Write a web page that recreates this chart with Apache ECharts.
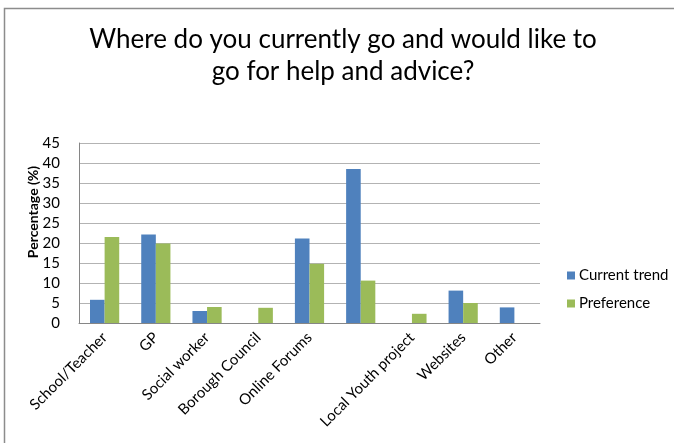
<!DOCTYPE html>
<html>
<head>
<meta charset="utf-8">
<script src="https://cdn.jsdelivr.net/npm/echarts@6/dist/echarts.min.js"></script>
<style>
  html, body { margin: 0; padding: 0; background: #fff; }
  #chart { width: 674px; height: 443px; }
</style>
</head>
<body>
<div id="chart"></div>
<script>
// Help and advice sources, survey percentages
const categories = ['School/Teacher', 'GP', 'Social worker', 'Borough Council', 'Online Forums', '', 'Local Youth project', 'Websites', 'Other'];
const currentTrend = [5.8, 22.1, 3.0, null, 21.1, 38.5, null, 8.1, 3.9];
const preference = [21.5, 19.9, 4.0, 3.8, 14.8, 10.6, 2.3, 5.0, null];
const yTicks = { min: 0, max: 45, interval: 5 };

const font = 'Lato, "Liberation Sans", sans-serif';
const chart = echarts.init(document.getElementById('chart'));

chart.setOption({
  backgroundColor: '#ffffff',
  animation: false,
  title: {
    text: 'Where do you currently go and would like to\ngo for help and advice?',
    left: 338,
    top: 19,
    textAlign: 'center',
    textStyle: { fontFamily: font, fontSize: 26, fontWeight: 'normal', color: '#000', lineHeight: 32 }
  },
  legend: {
    orient: 'vertical',
    left: 562,
    top: 263,
    itemWidth: 8,
    itemHeight: 8,
    itemGap: 13,
    icon: 'rect',
    textStyle: { fontFamily: font, fontSize: 15, color: '#000', padding: [0, 0, 0, -1] },
    data: ['Current trend', 'Preference']
  },
  grid: { left: 79, right: 134, top: 143, bottom: 120, containLabel: false },
  xAxis: {
    type: 'category',
    data: categories,
    axisLine: { lineStyle: { color: '#868686', width: 1 } },
    axisTick: { show: false },
    axisLabel: { rotate: 45, interval: 0, margin: 12, fontFamily: font, fontSize: 15, color: '#000' }
  },
  yAxis: {
    type: 'value',
    min: yTicks.min,
    max: yTicks.max,
    interval: yTicks.interval,
    axisLine: { show: true, lineStyle: { color: '#868686', width: 1 } },
    axisTick: { show: false },
    splitLine: { lineStyle: { color: '#b3b3b3', width: 1 } },
    axisLabel: { margin: 19, fontFamily: font, fontSize: 15, color: '#000' }
  },
  graphic: [
    {
      type: 'rect',
      shape: { x: 4.5, y: 8.5, width: 700, height: 460 },
      style: { fill: 'none', stroke: '#8c8c8c', lineWidth: 1.5 },
      silent: true
    },
    {
      type: 'text',
      x: 33,
      y: 212,
      rotation: Math.PI / 2,
      style: {
        text: 'Percentage (%)',
        fontFamily: font,
        fontSize: 14,
        fontWeight: 'bold',
        fill: '#000',
        align: 'center',
        verticalAlign: 'middle'
      }
    }
  ],
  series: [
    {
      name: 'Current trend',
      type: 'bar',
      data: currentTrend,
      barGap: '0%',
      barCategoryGap: '43%',
      itemStyle: { color: '#4f81bd' }
    },
    {
      name: 'Preference',
      type: 'bar',
      data: preference,
      itemStyle: { color: '#9bbb59' }
    }
  ]
});
</script>
</body>
</html>
